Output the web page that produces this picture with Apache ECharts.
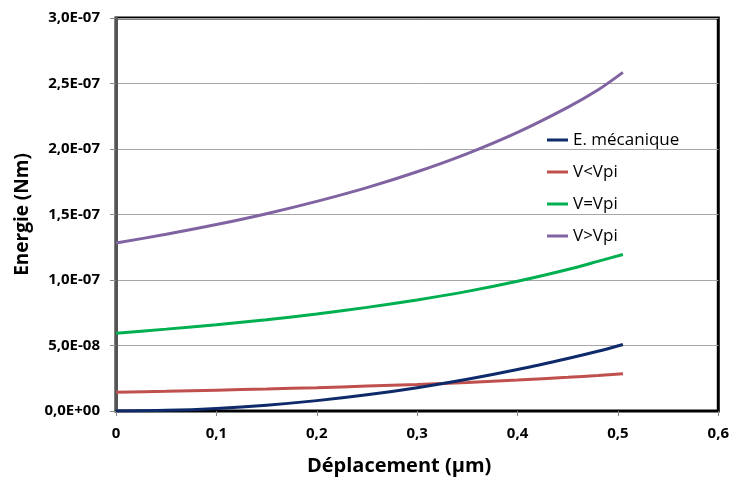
<!DOCTYPE html>
<html>
<head>
<meta charset="utf-8">
<script src="https://cdn.jsdelivr.net/npm/echarts@6/dist/echarts.min.js"></script>
<style>
html,body{margin:0;padding:0;background:#fff;}
#c{width:732px;height:485px;}
</style>
</head>
<body>
<div id="c"></div>
<script>
// Data (energy in Nm, displacement in µm)
const displacement = [0, 0.05, 0.1, 0.15, 0.2, 0.25, 0.3, 0.35, 0.4, 0.45, 0.48, 0.505];
const eMecanique = [0, 0.0050e-7, 0.0198e-7, 0.0446e-7, 0.0792e-7, 0.1238e-7, 0.1782e-7, 0.2426e-7, 0.3168e-7, 0.4010e-7, 0.4560e-7, 0.5080e-7];
const vInfVpi   = [0.143e-7, 0.150e-7, 0.159e-7, 0.168e-7, 0.178e-7, 0.190e-7, 0.203e-7, 0.218e-7, 0.236e-7, 0.257e-7, 0.271e-7, 0.285e-7];
const vEqVpi    = [0.594e-7, 0.625e-7, 0.658e-7, 0.697e-7, 0.741e-7, 0.791e-7, 0.848e-7, 0.913e-7, 0.990e-7, 1.080e-7, 1.142e-7, 1.195e-7];
const vSupVpi   = [1.282e-7, 1.349e-7, 1.423e-7, 1.506e-7, 1.600e-7, 1.705e-7, 1.826e-7, 1.965e-7, 2.127e-7, 2.318e-7, 2.450e-7, 2.585e-7];
const seriesNames = ['E. mécanique', 'V<Vpi', 'V=Vpi', 'V>Vpi'];
const seriesColors = ['#0E2A6B', '#C0504D', '#00B050', '#8064A2'];

function fmtY(v) {
  if (Math.abs(v) < 1e-15) return '0,0E+00';
  let e = Math.floor(Math.log10(v) + 1e-9);
  let m = v / Math.pow(10, e);
  if (m >= 9.95) { m /= 10; e += 1; }
  const sign = e < 0 ? '-' : '+';
  const ae = Math.abs(e);
  return m.toFixed(1).replace('.', ',') + 'E' + sign + (ae < 10 ? '0' + ae : '' + ae);
}
function pairs(ys) { return displacement.map((x, i) => [x, ys[i]]); }

const chart = echarts.init(document.getElementById('c'), null, {renderer: 'canvas'});
const allData = [eMecanique, vInfVpi, vEqVpi, vSupVpi];
const font = '"Open Sans", Lato, "DejaVu Sans", sans-serif';

chart.setOption({
  backgroundColor: '#fff',
  animation: false,
  grid: {left: 116, right: 13, top: 18, bottom: 74, show: true, borderColor: '#000', borderWidth: 3, backgroundColor: 'transparent'},
  legend: {
    orient: 'vertical', left: 542, top: 126,
    icon: 'rect', itemWidth: 21, itemHeight: 3, itemGap: 14,
    textStyle: {fontFamily: font, fontSize: 17, color: '#000', lineHeight: 18},
    data: seriesNames
  },
  xAxis: {
    type: 'value', min: 0, max: 0.6, interval: 0.1,
    name: 'Déplacement (µm)', nameLocation: 'middle', nameGap: 45,
    nameTextStyle: {fontFamily: font, fontSize: 20, fontWeight: 'bold', color: '#000', padding: [0, 36, 0, 0]},
    axisLine: {show: true, onZero: false, lineStyle: {color: '#000', width: 2}},
    axisTick: {show: true, length: 5, lineStyle: {color: '#888'}},
    axisLabel: {fontFamily: font, fontSize: 15, fontWeight: 'bold', color: '#000', margin: 15,
      formatter: v => (Math.abs(v) < 1e-9 ? '0' : v.toFixed(1).replace('.', ','))},
    splitLine: {show: false}
  },
  yAxis: {
    type: 'value', min: 0, max: 3e-7, interval: 5e-8,
    name: 'Energie (Nm)', nameLocation: 'middle', nameGap: 84, nameRotate: 90,
    nameTextStyle: {fontFamily: font, fontSize: 19, fontWeight: 'bold', color: '#000'},
    axisLine: {show: true, lineStyle: {color: '#555', width: 3}},
    axisTick: {show: true, length: 6, lineStyle: {color: '#888'}},
    axisLabel: {fontFamily: font, fontSize: 15, fontWeight: 'bold', color: '#000', margin: 16, formatter: fmtY},
    splitLine: {show: true, lineStyle: {color: '#A6A6A6', width: 1}}
  },
  series: seriesNames.map((n, i) => ({
    name: n, type: 'line', data: pairs(allData[i]), smooth: 0.3,
    showSymbol: false, symbol: 'none',
    lineStyle: {color: seriesColors[i], width: 3},
    itemStyle: {color: seriesColors[i]},
    z: 3 + (i === 0 ? 1 : 0)
  }))
});
</script>
</body>
</html>
